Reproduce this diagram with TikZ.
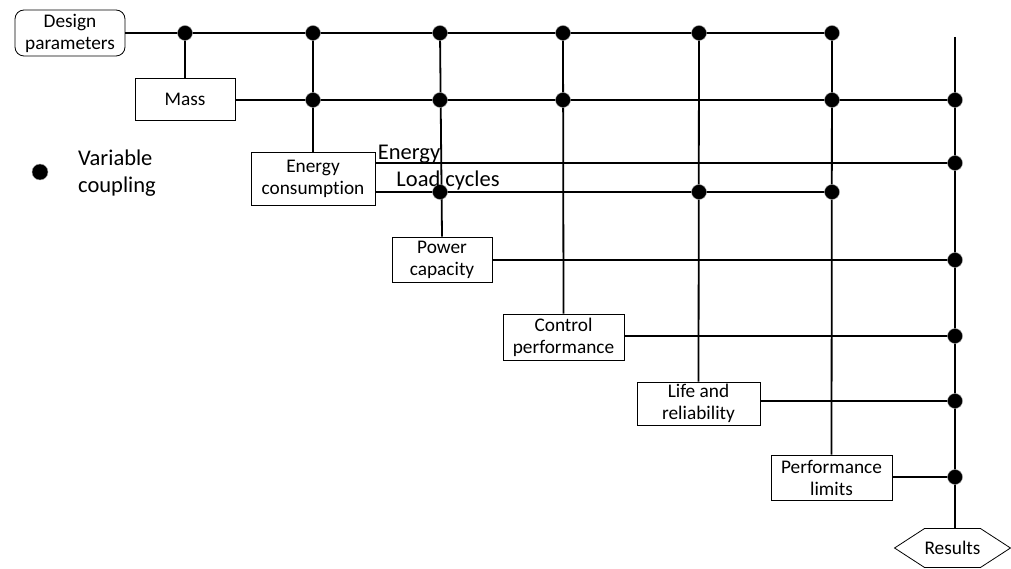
\documentclass[tikz,border=0pt]{standalone}
\usepackage{fontspec}
\setmainfont[Ligatures={NoCommon}]{Carlito}
\usetikzlibrary{shapes.symbols}
\begin{document}
\begin{tikzpicture}[x=1pt,y=-1pt,
  box/.style={draw, line width=0.8pt, rectangle, align=center, inner sep=0pt,
    font=\fontsize{19.3}{22}\selectfont},
  dotnode/.style={circle, fill=black, draw=gray!70, line width=0.4pt, minimum size=15pt, inner sep=0pt},
  wire/.style={line width=1.8pt},
  big/.style={font=\fontsize{22.5}{27}\selectfont, inner sep=0pt}]
\useasboundingbox (0,0) rectangle (1011,569);

% boxes
\node[box, rounded corners=9pt, minimum width=110pt, minimum height=46pt] (design) at (70,33) {Design\\parameters};
\node[box, minimum width=100pt, minimum height=42pt] (mass) at (185,99) {Mass};
\node[box, minimum width=124pt, minimum height=53pt] (energy) at (313,178.5) {Energy\\consumption};
\node[box, minimum width=100pt, minimum height=45pt] (power) at (442,259.5) {Power\\capacity};
\node[box, minimum width=121pt, minimum height=46pt] (control) at (563.5,337) {Control\\performance};
\node[box, minimum width=123pt, minimum height=43pt] (life) at (698.5,403.5) {Life and\\reliability};
\node[box, minimum width=121pt, minimum height=45pt] (perf) at (831.5,477.5) {Performance\\limits};
\node[box, shape=signal, signal to=west and east, signal pointer angle=66,
  minimum width=115pt, minimum height=39pt] (results) at (952.5,548) {Results};

% coupling points
\coordinate (t185) at (185,33);
\coordinate (t313) at (313,33);
\coordinate (t440) at (440,33);
\coordinate (t563) at (563,33);
\coordinate (t699) at (699,33);
\coordinate (t832) at (832,33);
\coordinate (m313) at (313,100);
\coordinate (m440) at (440,100);
\coordinate (m563) at (563,100);
\coordinate (m832) at (832,100);
\coordinate (m955) at (955,100);
\coordinate (e955) at (955,163);
\coordinate (l440) at (440,192);
\coordinate (l699) at (699,192);
\coordinate (l832) at (832,192);
\coordinate (p955) at (955,260);
\coordinate (c955) at (955,336);
\coordinate (li955) at (955,401);
\coordinate (pf955) at (955,477);
\coordinate (rtop) at (955,37);

% wires
\draw[wire] (design.east) -- (t832);
\draw[wire] (t185) -- (mass.north);
\draw[wire] (mass.east |- m955) -- (m955);
\draw[wire] (t313) -- (energy.north);
\draw[wire] (t440) -- (power.north);
\draw[wire] (t563) -- (control.north);
\draw[wire] (t699) -- (life.north);
\draw[wire] (t832) -- (perf.north);
\draw[wire] (rtop) -- (rtop |- results.north);
\draw[wire] (energy.east |- e955) -- (e955);
\draw[wire] (energy.east |- l832) -- (l832);
\draw[wire] (power.east |- p955) -- (p955);
\draw[wire] (control.east |- c955) -- (c955);
\draw[wire] (life.east |- li955) -- (li955);
\draw[wire] (perf.east |- pf955) -- (pf955);

% dots
\foreach \c in {t185,t313,t440,t563,t699,t832,m313,m440,m563,m832,m955,e955,l440,l699,l832,p955,c955,li955,pf955}
  \node[dotnode] at (\c) {};

% labels
\node[big] (lenergy) at (409,154) {Energy};
\node[big] (lload) at (448,181) {Load cycles};

% legend
\node[dotnode, minimum size=16pt] (legdot) at (40,172) {};
\node[big, align=left, anchor=west] (legtext) at (78,173) {Variable\\coupling};
\end{tikzpicture}
\end{document}
